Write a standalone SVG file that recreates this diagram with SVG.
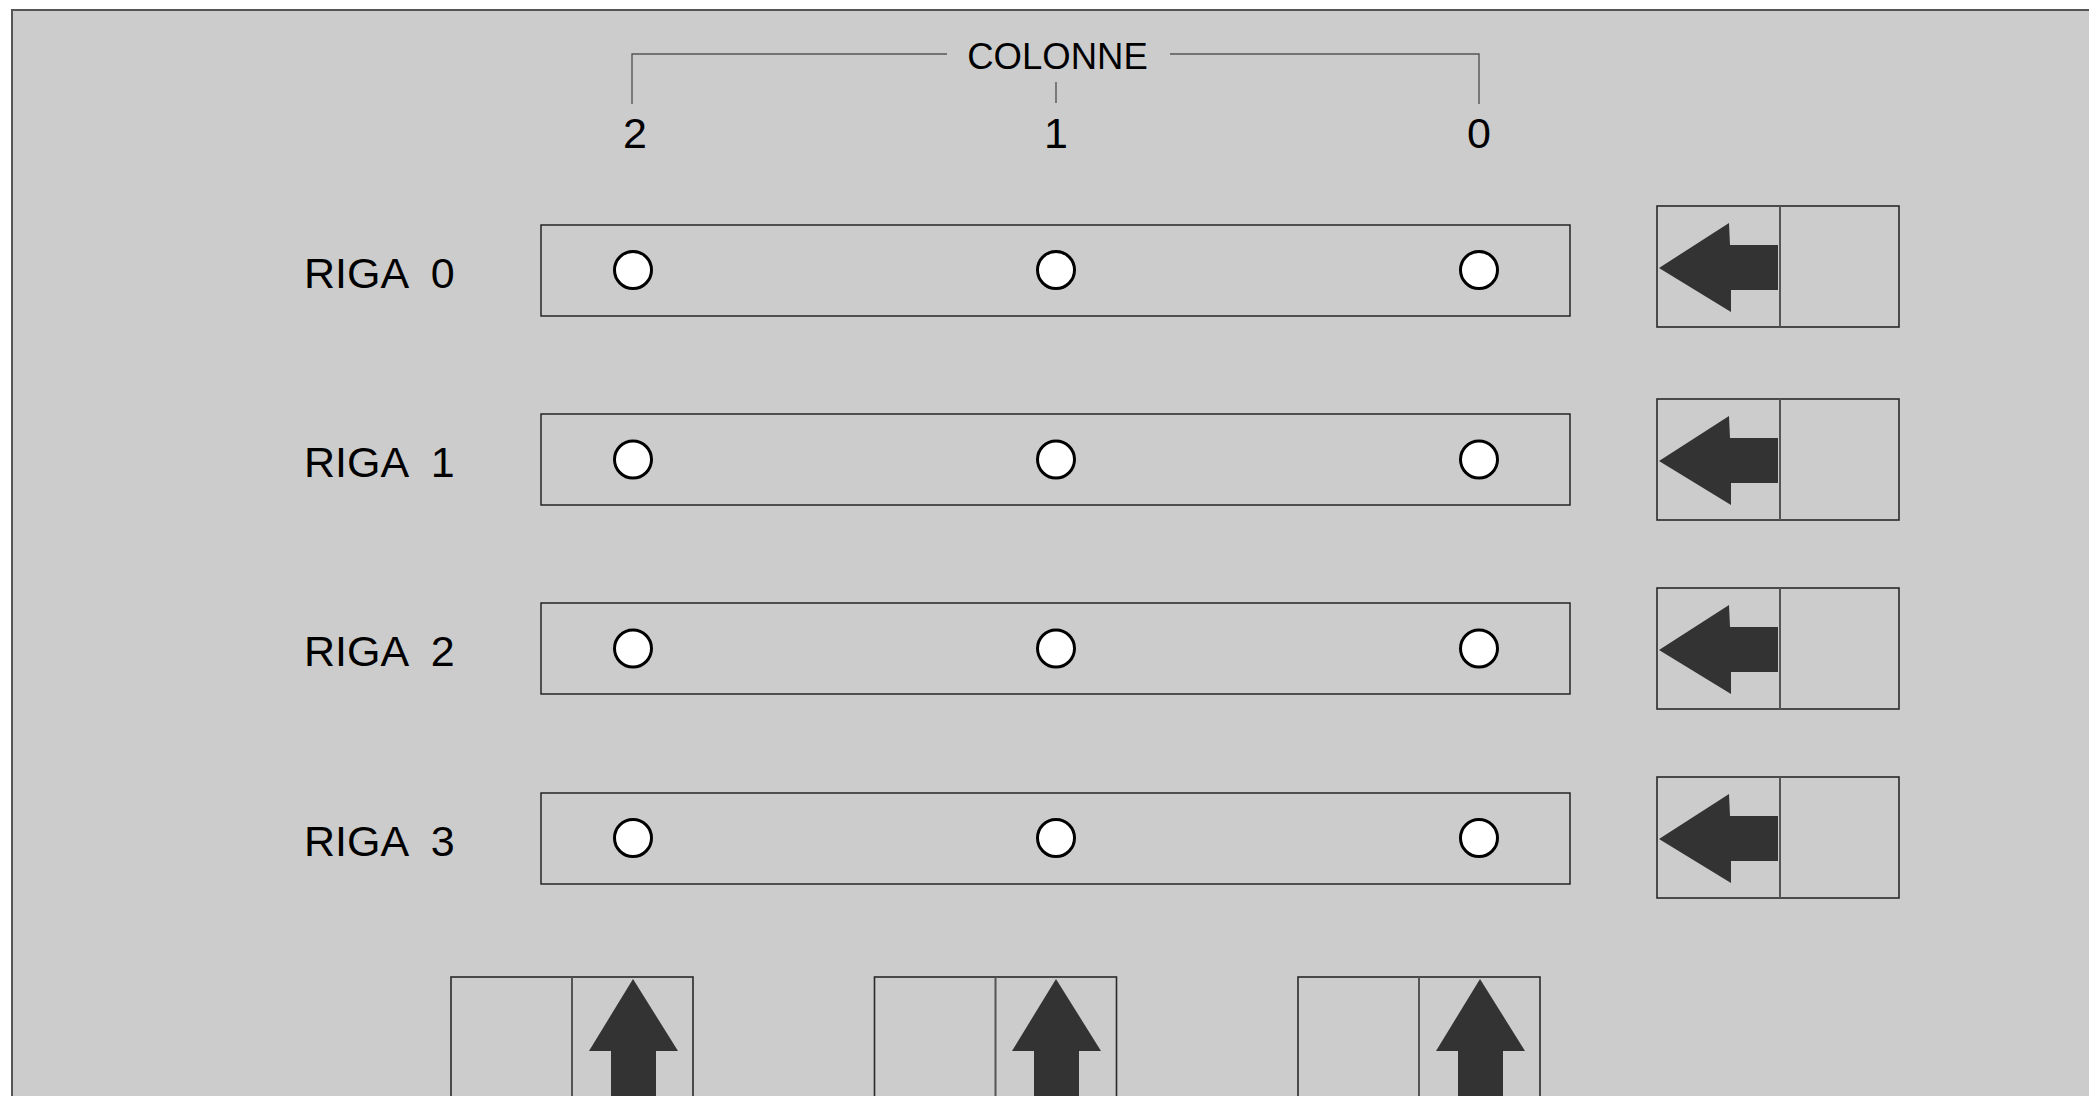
<svg xmlns="http://www.w3.org/2000/svg" xmlns:xlink="http://www.w3.org/1999/xlink" width="2089" height="1096" viewBox="0 0 2089 1096">
<style>
.bg{fill:#cccccc;stroke:#555555;stroke-width:2}
.row{fill:none;stroke:#1a1a1a;stroke-width:1.4}
.hole{fill:#ffffff;stroke:#000000;stroke-width:3}
.box{fill:none;stroke:#2a2a2a;stroke-width:1.6}
.div{stroke:#555555;stroke-width:2}
.arrow{fill:#333333}
.brk{fill:none;stroke:#555555;stroke-width:1.4}
.lbl{font-family:"Liberation Sans",Arial,sans-serif;font-size:43px;fill:#000000}
.col{font-family:"Liberation Sans",Arial,sans-serif;font-size:36.5px;fill:#000000}
</style>
<defs>
<path id="larrow" class="arrow" d="M1659,62 L1729,17 L1730,39 L1778,39 L1778,84 L1731,84 L1731,106 Z"/>
<path id="uarrow" class="arrow" d="M633,979 L678,1051 L656,1051 L656,1110 L611,1110 L611,1051 L589,1051 Z"/>
</defs>
<rect x="0" y="0" width="2089" height="1096" fill="#ffffff"/>
<rect class="bg" x="12" y="10" width="2100" height="1110"/>

<g id="connectors">
<path class="brk" d="M632,104 V54 H947"/>
<path class="brk" d="M1170,54 H1479 V104"/>
<line class="brk" x1="1056" y1="82" x2="1056" y2="103"/>
</g>

<g id="colonne">
<text class="col" x="1057.5" y="69" text-anchor="middle">COLONNE</text>
<text class="lbl" x="635" y="148" text-anchor="middle">2</text>
<text class="lbl" x="1056" y="148" text-anchor="middle">1</text>
<text class="lbl" x="1479" y="148" text-anchor="middle">0</text>
</g>

<g id="riga0">
<text class="lbl" x="304" y="288" xml:space="preserve">RIGA  0</text>
<rect class="row" x="541" y="225" width="1029" height="91"/>
<circle class="hole" cx="633" cy="270" r="18.5"/>
<circle class="hole" cx="1056" cy="270" r="18.5"/>
<circle class="hole" cx="1479" cy="270" r="18.5"/>
</g>
<g id="riga1">
<text class="lbl" x="304" y="477" xml:space="preserve">RIGA  1</text>
<rect class="row" x="541" y="414" width="1029" height="91"/>
<circle class="hole" cx="633" cy="459.5" r="18.5"/>
<circle class="hole" cx="1056" cy="459.5" r="18.5"/>
<circle class="hole" cx="1479" cy="459.5" r="18.5"/>
</g>
<g id="riga2">
<text class="lbl" x="304" y="666" xml:space="preserve">RIGA  2</text>
<rect class="row" x="541" y="603" width="1029" height="91"/>
<circle class="hole" cx="633" cy="648.5" r="18.5"/>
<circle class="hole" cx="1056" cy="648.5" r="18.5"/>
<circle class="hole" cx="1479" cy="648.5" r="18.5"/>
</g>
<g id="riga3">
<text class="lbl" x="304" y="856" xml:space="preserve">RIGA  3</text>
<rect class="row" x="541" y="793" width="1029" height="91"/>
<circle class="hole" cx="633" cy="838" r="18.5"/>
<circle class="hole" cx="1056" cy="838" r="18.5"/>
<circle class="hole" cx="1479" cy="838" r="18.5"/>
</g>

<g id="shift-riga0">
<rect class="box" x="1657" y="206" width="242" height="121"/>
<line class="div" x1="1780" y1="206" x2="1780" y2="327"/>
<use xlink:href="#larrow" href="#larrow" transform="translate(0,206)"/>
</g>
<g id="shift-riga1">
<rect class="box" x="1657" y="399" width="242" height="121"/>
<line class="div" x1="1780" y1="399" x2="1780" y2="520"/>
<use xlink:href="#larrow" href="#larrow" transform="translate(0,399)"/>
</g>
<g id="shift-riga2">
<rect class="box" x="1657" y="588" width="242" height="121"/>
<line class="div" x1="1780" y1="588" x2="1780" y2="709"/>
<use xlink:href="#larrow" href="#larrow" transform="translate(0,588)"/>
</g>
<g id="shift-riga3">
<rect class="box" x="1657" y="777" width="242" height="121"/>
<line class="div" x1="1780" y1="777" x2="1780" y2="898"/>
<use xlink:href="#larrow" href="#larrow" transform="translate(0,777)"/>
</g>

<g id="shift-col2">
<rect class="box" x="451" y="977" width="242" height="140"/>
<line class="div" x1="572" y1="977" x2="572" y2="1117"/>
<use xlink:href="#uarrow" href="#uarrow"/>
</g>
<g id="shift-col1">
<rect class="box" x="874.5" y="977" width="242" height="140"/>
<line class="div" x1="995.5" y1="977" x2="995.5" y2="1117"/>
<use xlink:href="#uarrow" href="#uarrow" transform="translate(423,0)"/>
</g>
<g id="shift-col0">
<rect class="box" x="1298" y="977" width="242" height="140"/>
<line class="div" x1="1419" y1="977" x2="1419" y2="1117"/>
<use xlink:href="#uarrow" href="#uarrow" transform="translate(847,0)"/>
</g>
</svg>
